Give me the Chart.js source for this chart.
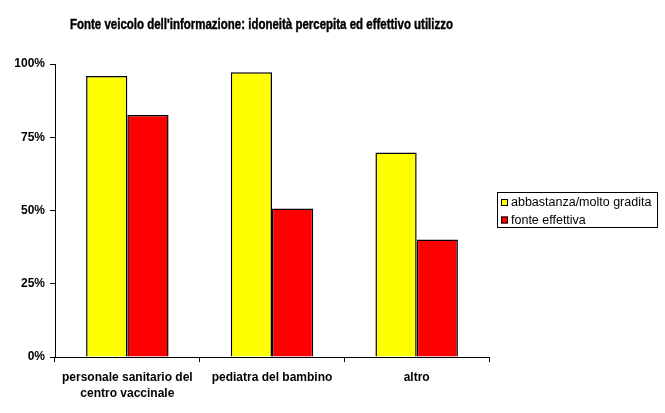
<!DOCTYPE html>
<html>
<head>
<meta charset="utf-8">
<script src="https://cdn.jsdelivr.net/npm/chart.js@4"></script>
<style>
  html, body { margin: 0; padding: 0; background: #fff; }
  #wrap { width: 665px; height: 413px; position: relative; }
</style>
</head>
<body>
<div id="wrap"><canvas id="c" width="665" height="413"></canvas></div>
<script>
const chartTitle = "Fonte veicolo dell'informazione: idoneità percepita ed effettivo utilizzo";
const categories = [["personale sanitario del", "centro vaccinale"], "pediatra del bambino", "altro"];
const seriesNames = ["abbastanza/molto gradita", "fonte effettiva"];
const gradita = [95.9, 97.2, 69.8];
const effettiva = [82.6, 50.7, 40.1];
const yTicks = [0, 25, 50, 75, 100];
const seriesColors = ["#FFFF00", "#FF0000"];

const titlePlugin = {
  id: 'customTitle',
  afterDraw(chart) {
    const ctx = chart.ctx;
    ctx.save();
    ctx.fillStyle = '#000';
    ctx.strokeStyle = '#000';
    ctx.lineWidth = 0.4;
    ctx.font = 'bold 14px "Liberation Sans", Arial, sans-serif';
    ctx.textAlign = 'center';
    ctx.textBaseline = 'alphabetic';
    ctx.fillText(chartTitle, 261.5, 28.5, 383);
    ctx.strokeText(chartTitle, 261.5, 28.5, 383);
    ctx.restore();
  }
};

const legendPlugin = {
  id: 'boxLegend',
  afterDraw(chart) {
    const ctx = chart.ctx;
    const x0 = 497, y0 = 192, w = 160, h = 35;
    ctx.save();
    ctx.strokeStyle = '#000';
    ctx.lineWidth = 1;
    ctx.strokeRect(x0 + 0.5, y0 + 0.5, w, h);
    ctx.font = '12.5px "Liberation Sans", Arial, sans-serif';
    ctx.textAlign = 'left';
    ctx.textBaseline = 'alphabetic';
    chart.data.datasets.forEach((ds, i) => {
      const sy = 199 + i * 17.5;
      ctx.fillStyle = ds.backgroundColor;
      ctx.fillRect(501, sy, 7, 7);
      ctx.strokeRect(501.5, sy + 0.5, 6, 6);
      ctx.fillStyle = '#000';
      ctx.fillText(ds.label, 511, sy + 7);
    });
    ctx.restore();
  }
};

Chart.defaults.color = '#000';
Chart.defaults.font.family = '"Liberation Sans", Arial, sans-serif';

new Chart(document.getElementById('c'), {
  type: 'bar',
  data: {
    labels: categories,
    datasets: [
      { label: seriesNames[0], data: gradita, backgroundColor: seriesColors[0], borderColor: '#000', borderWidth: 1.5 },
      { label: seriesNames[1], data: effettiva, backgroundColor: seriesColors[1], borderColor: '#000', borderWidth: 1.5 }
    ]
  },
  options: {
    responsive: false,
    animation: false,
    devicePixelRatio: 1,
    layout: { padding: { top: 64, right: 176, bottom: 6, left: 0 } },
    plugins: {
      legend: { display: false },
      title: { display: false },
      tooltip: { enabled: false }
    },
    datasets: { bar: { categoryPercentage: 0.57, barPercentage: 1.0 } },
    scales: {
      x: {
        offset: true,
        grid: { offset: true, drawOnChartArea: false, drawTicks: true, tickLength: 5, color: '#000' },
        border: { display: true, color: '#000', width: 1 },
        ticks: { font: { size: 12, weight: 'bold', lineHeight: 1.3 }, padding: 8, maxRotation: 0, autoSkip: false },
        afterFit(s) { s.height = 50; }
      },
      y: {
        min: 0, max: 100,
        afterBuildTicks(s) { s.ticks = yTicks.map(v => ({ value: v })); },
        grid: { drawOnChartArea: false, drawTicks: true, tickLength: 5, color: '#000' },
        border: { display: true, color: '#000', width: 1 },
        ticks: { font: { size: 12, weight: 'bold' }, padding: 5, callback: v => v + '%' },
        afterFit(s) { s.width = 55; }
      }
    }
  },
  plugins: [titlePlugin, legendPlugin]
});
</script>
</body>
</html>
